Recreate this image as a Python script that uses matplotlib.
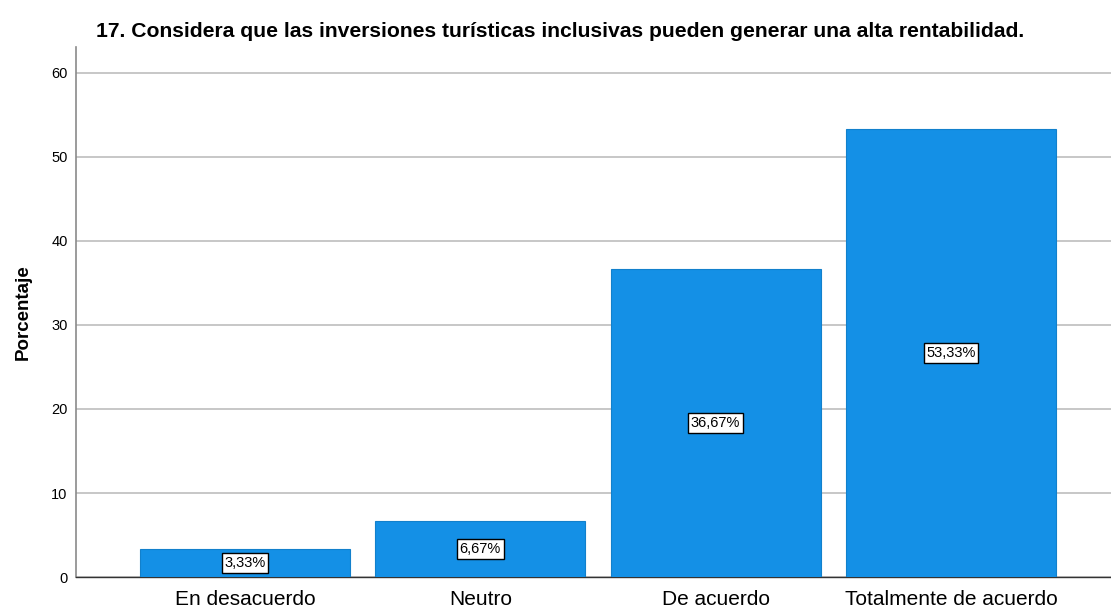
import matplotlib.pyplot as plt

categorias = ["En desacuerdo", "Neutro", "De acuerdo", "Totalmente de acuerdo"]
porcentajes = [3.33, 6.67, 36.67, 53.33]
etiquetas = ["3,33%", "6,67%", "36,67%", "53,33%"]

plt.rcParams['font.family'] = ['Liberation Sans', 'DejaVu Sans']

fig = plt.figure(figsize=(11.11, 6.09), dpi=100)
ax = fig.add_axes([0.0684, 0.0525, 0.9316, 0.8705])

x = range(len(categorias))
ax.bar(x, porcentajes, width=0.893, color="#1490E6", edgecolor="#1280CC",
       linewidth=0.8, zorder=3)

# etiquetas con el valor en el centro de cada barra
for i, v in enumerate(porcentajes):
    ax.text(i, v / 2, etiquetas[i], ha="center", va="center", fontsize=10.5,
            zorder=4,
            bbox=dict(boxstyle="square,pad=0.18", facecolor="white",
                      edgecolor="black", linewidth=1))

ax.set_xlim(-0.718, 3.68)
ax.set_ylim(0, 63.1)
ax.set_yticks([0, 10, 20, 30, 40, 50, 60])
ax.set_xticks(list(x))
ax.set_xticklabels(categorias, fontsize=15)
ax.tick_params(axis="y", labelsize=10.5, length=0, pad=6)
ax.tick_params(axis="x", length=0, pad=9)
ax.yaxis.grid(True, color="#BDBDBD", linewidth=1.2, zorder=0)

for lado in ["top", "right"]:
    ax.spines[lado].set_visible(False)
ax.spines["left"].set_color("#8A8A8A")
ax.spines["left"].set_linewidth(1.2)
ax.spines["bottom"].set_color("#333333")
ax.spines["bottom"].set_linewidth(1)

ax.set_ylabel("Porcentaje", fontsize=13.5, fontweight="bold", labelpad=14)
fig.text(0.504, 0.948,
         "17. Considera que las inversiones turísticas inclusivas pueden generar una alta rentabilidad.",
         ha="center", va="center", fontsize=15.2, fontweight="bold")

fig.savefig("out.png", dpi=100)
